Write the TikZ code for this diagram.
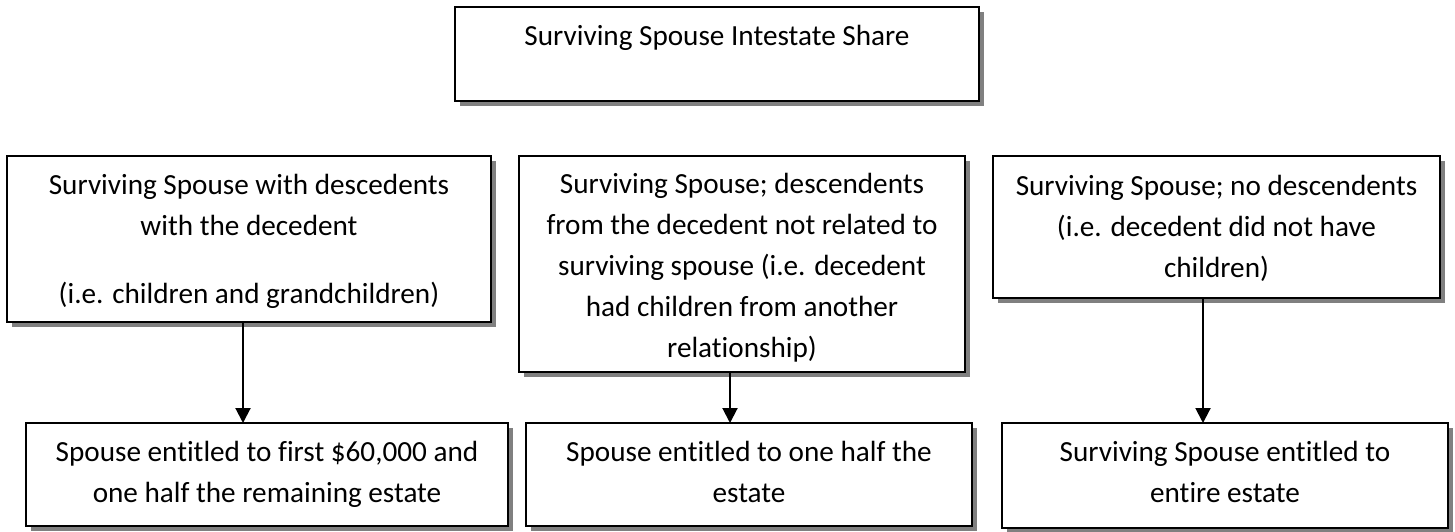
\documentclass[tikz,border=0pt]{standalone}
\usepackage{fontspec}
\setmainfont{Carlito}[Ligatures={NoCommon,NoRare}]
\usetikzlibrary{arrows.meta,shadows}
\begin{document}
\begin{tikzpicture}[x=0.5pt,y=-0.5pt,
  box/.style={draw=black, line width=0.9pt, fill=white, inner sep=0pt, outer sep=0pt,
    drop shadow={shadow xshift=2.5pt, shadow yshift=-2.5pt, fill=black!50, opacity=1}},
  txt/.style={anchor=base, align=center, inner sep=0pt,
    font=\fontsize{14.6pt}{20.5pt}\selectfont},
  arr/.style={line width=1pt, -{Triangle[width=7.5pt,length=7.5pt]}}]
\useasboundingbox (0,0) rectangle (1455,531);
% boxes
\node[box, minimum width=262pt, minimum height=47pt] (top) at (717,54) {};
\node[box, minimum width=242pt, minimum height=83pt] (b1) at (249,239) {};
\node[box, minimum width=223pt, minimum height=108pt] (b2) at (742,264) {};
\node[box, minimum width=223.5pt, minimum height=71pt] (b3) at (1216.5,227) {};
\node[box, minimum width=241pt, minimum height=51.5pt] (b4) at (267,474.5) {};
\node[box, minimum width=223pt, minimum height=51.5pt] (b5) at (749,474.5) {};
\node[box, minimum width=223pt, minimum height=52.5pt] (b6) at (1225,475.5) {};
% texts (anchor base = baseline of the last line)
\node[txt] (ttop) at (717,45) {Surviving Spouse Intestate Share};
\node[txt] (t1) at (249,303) {Surviving Spouse with descedents\\with the decedent\\[13.5pt](i.e. children and grandchildren)};
\node[txt] (t2) at (742,357) {Surviving Spouse; descendents\\from the decedent not related to\\surviving spouse (i.e. decedent\\had children from another\\relationship)};
\node[txt] (t3) at (1216.5,277) {Surviving Spouse; no descendents\\(i.e. decedent did not have\\children)};
\node[txt] (t4) at (267,502) {Spouse entitled to first \$60,000 and\\one half the remaining estate};
\node[txt] (t5) at (749,502) {Spouse entitled to one half the\\estate};
\node[txt] (t6) at (1225,502) {Surviving Spouse entitled to\\entire estate};
% arrows
\coordinate (a1) at (243,0);
\coordinate (a2) at (730,0);
\coordinate (a3) at (1203,0);
\draw[arr] (b1.south -| a1) -- (b4.north -| a1);
\draw[arr] (b2.south -| a2) -- (b5.north -| a2);
\draw[arr] (b3.south -| a3) -- (b6.north -| a3);
\end{tikzpicture}
\end{document}
